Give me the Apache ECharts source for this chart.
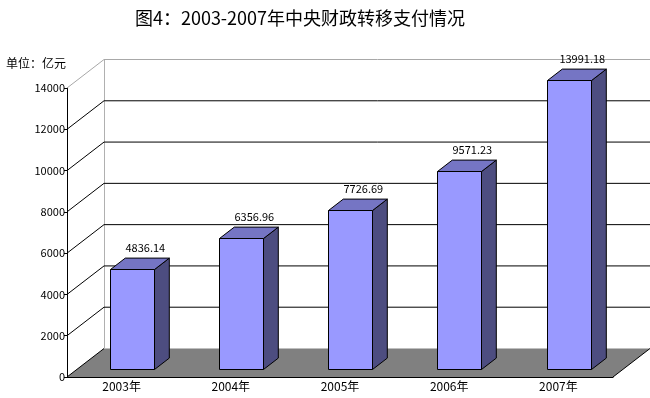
<!DOCTYPE html>
<html>
<head>
<meta charset="utf-8">
<script src="https://cdn.jsdelivr.net/npm/echarts@6/dist/echarts.min.js"></script>
<style>html,body{margin:0;padding:0;background:#fff;}#c{width:650px;height:398px;}</style>
</head>
<body>
<div id="c"></div>
<script>
const categories = ['2003年', '2004年', '2005年', '2006年', '2007年'];
const values = [4836.14, 6356.96, 7726.69, 9571.23, 13991.18];
const valueLabels = ['4836.14', '6356.96', '7726.69', '9571.23', '13991.18'];
const yTicks = [0, 2000, 4000, 6000, 8000, 10000, 12000, 14000];
const titleText = '图4：2003-2007年中央财政转移支付情况';
const unitText = '单位：亿元';

const FONT = "'Noto Sans CJK SC', sans-serif";
const DX = 37, DY = -28.5;      // depth projection vector
const F0 = 0.28, F1 = 0.68;     // bar depth range (fraction of depth)

const chart = echarts.init(document.getElementById('c'), null, {renderer: 'canvas'});

function renderFrame(params, api) {
  const cs = params.coordSys;
  const v = api.value(1);
  const y = api.coord([0, v])[1];
  const left = cs.x, right = cs.x + cs.width, bottom = cs.y + cs.height;
  if (v === 0) {
    const topY = api.coord([0, yTicks[yTicks.length - 1]])[1];
    return {
      type: 'group',
      children: [
        {type: 'polygon', shape: {points: [[left, bottom], [right, bottom], [right + DX, bottom + DY], [left + DX, bottom + DY]]},
         style: {fill: '#808080', stroke: null}},
        {type: 'line', shape: {x1: left, y1: bottom, x2: left + DX, y2: bottom + DY}, style: {stroke: '#000', lineWidth: 1}},
        {type: 'line', shape: {x1: right, y1: bottom, x2: right + DX, y2: bottom + DY}, style: {stroke: '#000', lineWidth: 1}},
        {type: 'line', shape: {x1: left + DX + 0.5, y1: bottom + DY, x2: left + DX + 0.5, y2: topY + DY}, style: {stroke: '#b0b0b0', lineWidth: 1}}
      ]
    };
  }
  const isTop = v === yTicks[yTicks.length - 1];
  return {
    type: 'polyline',
    shape: {points: [[left, y], [left + DX, y + DY], [right + DX + 10, y + DY]]},
    style: {stroke: isTop ? '#a8a8a8' : '#000', lineWidth: 1, fill: null}
  };
}

function renderBar(params, api) {
  const idx = api.value(0), v = api.value(1);
  const top = api.coord([idx, v]);
  const base = api.coord([idx, 0]);
  const bw = api.size([1, 0])[0] * 0.405;
  const x0 = Math.round(top[0] - bw / 2 + F0 * DX) + 0.5;
  const x1 = x0 + Math.round(bw);
  const yb = Math.round(base[1] + F0 * DY) + 0.5;
  const yt = Math.round(top[1] + F0 * DY) + 0.5;
  const ddx = (F1 - F0) * DX, ddy = (F1 - F0) * DY;
  const st = {stroke: '#000', lineWidth: 1};
  return {
    type: 'group',
    children: [
      {type: 'polygon', shape: {points: [[x1, yb], [x1, yt], [x1 + ddx, yt + ddy], [x1 + ddx, yb + ddy]]},
       style: Object.assign({fill: '#4d4d80'}, st)},
      {type: 'polygon', shape: {points: [[x0, yt], [x1, yt], [x1 + ddx, yt + ddy], [x0 + ddx, yt + ddy]]},
       style: Object.assign({fill: '#7575c4'}, st)},
      {type: 'rect', shape: {x: x0, y: yt, width: x1 - x0, height: yb - yt},
       style: Object.assign({fill: '#9999ff'}, st)},
      {type: 'text', x: x0 + ddx + (x1 - x0) / 2 - 2, y: yt + ddy - 10,
       style: {text: valueLabels[idx], textAlign: 'center', textVerticalAlign: 'middle',
               font: "11px " + FONT, fill: '#000'}}
    ]
  };
}

chart.setOption({
  animation: false,
  backgroundColor: '#fff',
  graphic: [
    {type: 'text', x: 300, y: 18,
     style: {text: titleText, textAlign: 'center', textVerticalAlign: 'middle', font: "18px " + FONT, fill: '#000'}},
    {type: 'text', x: 6, y: 63,
     style: {text: unitText, textAlign: 'left', textVerticalAlign: 'middle', font: "12px " + FONT, fill: '#000'}}
  ],
  grid: {left: 67, right: 37, top: 88, bottom: 21, containLabel: false},
  xAxis: {
    type: 'category',
    data: categories,
    boundaryGap: true,
    axisLine: {lineStyle: {color: '#000', width: 1}},
    axisTick: {show: true, inside: true, length: 5, interval: 0, lineStyle: {color: '#000'}},
    axisLabel: {color: '#000', fontSize: 12, fontFamily: FONT, margin: 3, interval: 0},
    splitLine: {show: false}
  },
  yAxis: {
    type: 'value',
    min: 0, max: 14000, interval: 2000,
    axisLine: {show: true, lineStyle: {color: '#000', width: 1}},
    axisTick: {show: true, inside: false, length: 3, lineStyle: {color: '#000'}},
    axisLabel: {color: '#000', fontSize: 11, fontFamily: FONT, margin: 2, formatter: v => String(v)},
    splitLine: {show: false}
  },
  series: [
    {type: 'custom', name: 'frame', renderItem: renderFrame, clip: false, z: 1,
     encode: {x: 0, y: 1}, data: yTicks.map(v => [0, v]), silent: true},
    {type: 'custom', name: 'bars', renderItem: renderBar, clip: false, z: 2,
     encode: {x: 0, y: 1}, data: values.map((v, i) => [i, v]), silent: true}
  ]
});
</script>
</body>
</html>
